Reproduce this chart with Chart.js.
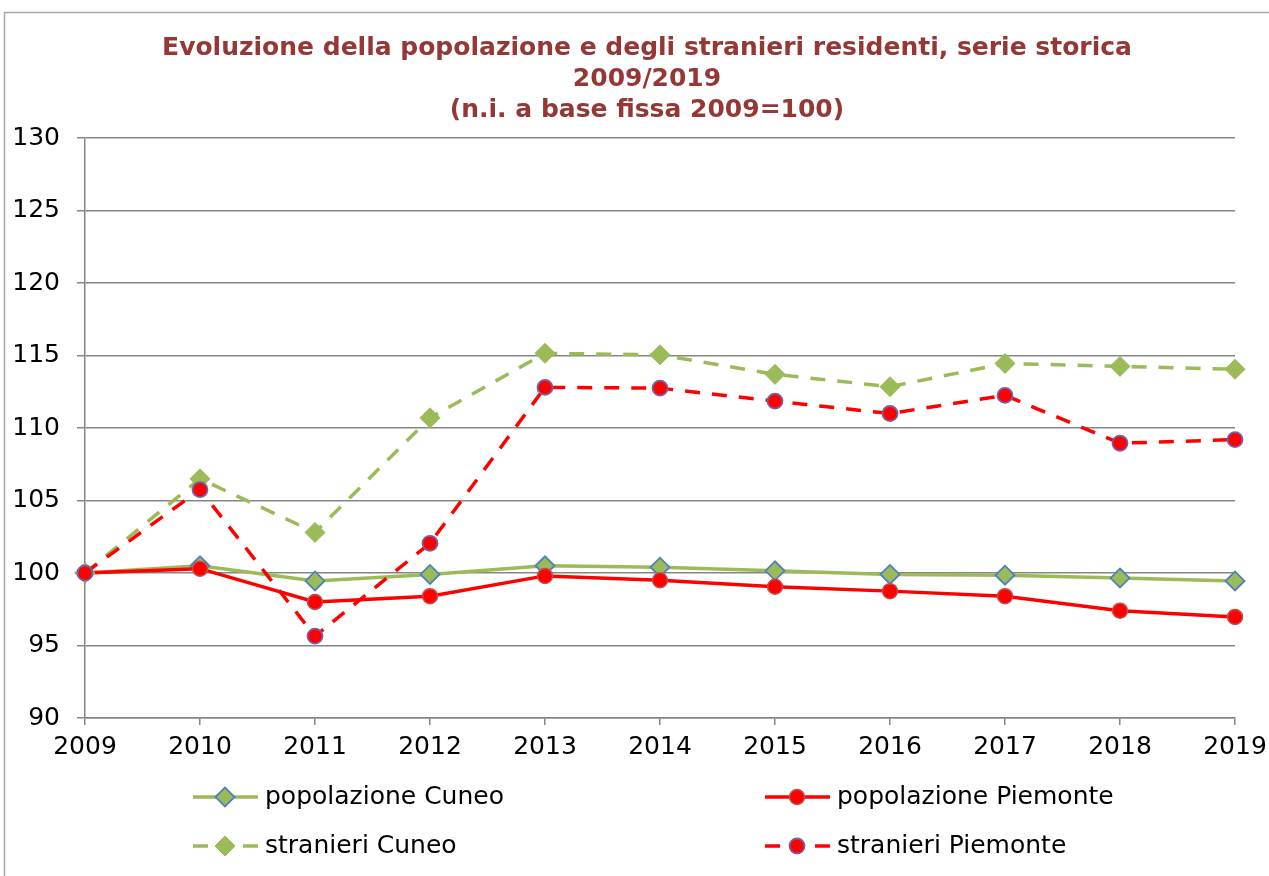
<!DOCTYPE html>
<html>
<head>
<meta charset="utf-8">
<script src="https://cdn.jsdelivr.net/npm/chart.js@4/dist/chart.umd.min.js"></script>
<style>
html,body{margin:0;padding:0;background:#fff;}
#wrap{width:1269px;height:876px;position:relative;}
</style>
</head>
<body>
<div id="wrap"><canvas id="c" width="1269" height="876"></canvas></div>
<script>
const years = ['2009','2010','2011','2012','2013','2014','2015','2016','2017','2018','2019'];
const popolazioneCuneo    = [100, 100.5, 99.45, 99.9, 100.5, 100.4, 100.15, 99.9, 99.85, 99.65, 99.45];
const popolazionePiemonte = [100, 100.3, 98.0, 98.4, 99.8, 99.5, 99.05, 98.75, 98.4, 97.4, 96.97];
const stranieriCuneo      = [100, 106.5, 102.8, 110.7, 115.15, 115.05, 113.7, 112.85, 114.45, 114.25, 114.05];
const stranieriPiemonte   = [100, 105.75, 95.65, 102.05, 112.8, 112.75, 111.85, 111.0, 112.25, 108.95, 109.2];
const seriesNames = ['popolazione Cuneo','popolazione Piemonte','stranieri Cuneo','stranieri Piemonte'];
const titleLines = ['Evoluzione della popolazione e degli stranieri residenti, serie storica','2009/2019','(n.i. a base fissa 2009=100)'];
const yMin = 90, yMax = 130, yStep = 5;

const FONT = "'DejaVu Sans', Verdana, sans-serif";
const GREEN = '#9BBB59', RED = '#FF0000', GRID = '#868686';

const datasets = [
  {label: seriesNames[0], data: popolazioneCuneo, borderColor: GREEN, borderWidth: 3.5,
   pointStyle: 'rectRot', pointRadius: 9.5, pointBackgroundColor: GREEN, pointBorderColor: '#4F81BD', pointBorderWidth: 1.8, order: 4},
  {label: seriesNames[1], data: popolazionePiemonte, borderColor: RED, borderWidth: 3.5,
   pointStyle: 'circle', pointRadius: 7.5, pointBackgroundColor: RED, pointBorderColor: '#C0504D', pointBorderWidth: 1.5, order: 3},
  {label: seriesNames[2], data: stranieriCuneo, borderColor: GREEN, borderWidth: 3.5, borderDash: [15, 12],
   pointStyle: 'rectRot', pointRadius: 10, pointBackgroundColor: GREEN, pointBorderColor: GREEN, pointBorderWidth: 1, order: 2},
  {label: seriesNames[3], data: stranieriPiemonte, borderColor: RED, borderWidth: 3.5, borderDash: [15, 12],
   pointStyle: 'circle', pointRadius: 7.5, pointBackgroundColor: RED, pointBorderColor: '#7460A8', pointBorderWidth: 1.8, order: 1}
];
datasets.forEach(d => { d.tension = 0; d.fill = false; d.pointHoverRadius = d.pointRadius; });

const frame = {
  id: 'frame',
  beforeDraw(chart) {
    const ctx = chart.ctx;
    ctx.save();
    ctx.fillStyle = '#fff';
    ctx.fillRect(0, 0, chart.width, chart.height);
    ctx.strokeStyle = '#A6A6A6';
    ctx.lineWidth = 1.5;
    ctx.beginPath();
    ctx.moveTo(4.5, chart.height);
    ctx.lineTo(4.5, 12.5);
    ctx.lineTo(chart.width, 12.5);
    ctx.stroke();
    // title
    ctx.fillStyle = '#953735';
    ctx.font = 'bold 25px ' + FONT;
    ctx.textAlign = 'center';
    ctx.textBaseline = 'middle';
    const cx = 647;
    const ys = [48, 79, 110];
    titleLines.forEach((t, i) => ctx.fillText(t, cx, ys[i]));
    ctx.restore();
  },
  afterDraw(chart) {
    const ctx = chart.ctx;
    const pos = [[193, 797], [765, 797], [193, 846], [765, 846]];
    ctx.save();
    chart.data.datasets.forEach((ds, i) => {
      const [x, y] = pos[i];
      ctx.strokeStyle = ds.borderColor;
      ctx.lineWidth = ds.borderWidth;
      ctx.lineCap = 'butt';
      ctx.beginPath();
      if (ds.borderDash) {
        ctx.moveTo(x, y); ctx.lineTo(x + 15, y);
        ctx.moveTo(x + 50, y); ctx.lineTo(x + 65, y);
      } else {
        ctx.moveTo(x, y); ctx.lineTo(x + 65, y);
      }
      ctx.stroke();
      ctx.fillStyle = ds.pointBackgroundColor;
      ctx.strokeStyle = ds.pointBorderColor;
      ctx.lineWidth = ds.pointBorderWidth;
      Chart.helpers.drawPoint(ctx, {pointStyle: ds.pointStyle, radius: ds.pointRadius, borderWidth: ds.pointBorderWidth, rotation: 0}, x + 32, y);
      ctx.fillStyle = '#000';
      ctx.font = '25px ' + FONT;
      ctx.textAlign = 'left';
      ctx.textBaseline = 'middle';
      ctx.fillText(ds.label, x + 72, y);
    });
    ctx.restore();
  }
};

new Chart(document.getElementById('c'), {
  type: 'line',
  data: {labels: years, datasets: datasets},
  options: {
    responsive: false,
    animation: false,
    events: [],
    layout: {padding: {left: 4, right: 34, top: 138, bottom: 0}},
    plugins: {legend: {display: false}, title: {display: false}, tooltip: {enabled: false}},
    scales: {
      x: {
        type: 'category',
        offset: false,
        grid: {display: true, drawOnChartArea: false, drawTicks: true, tickLength: 7, color: GRID, lineWidth: 1.5, offset: false},
        border: {display: true, color: GRID, width: 1.5},
        ticks: {font: {family: FONT, size: 25}, color: '#000', padding: 7, maxRotation: 0, autoSkip: false},
        afterFit(s) { s.height = 158; s.paddingLeft = 0; s.paddingRight = 0; }
      },
      y: {
        min: yMin, max: yMax,
        grid: {color: GRID, lineWidth: 1.5, drawTicks: true, tickLength: 8},
        border: {display: true, color: GRID, width: 1.5},
        ticks: {stepSize: yStep, font: {family: FONT, size: 25}, color: '#000', padding: 17},
        afterFit(s) { s.width = 81; s.paddingTop = 0; s.paddingBottom = 0; }
      }
    }
  },
  plugins: [frame]
});
</script>
</body>
</html>
